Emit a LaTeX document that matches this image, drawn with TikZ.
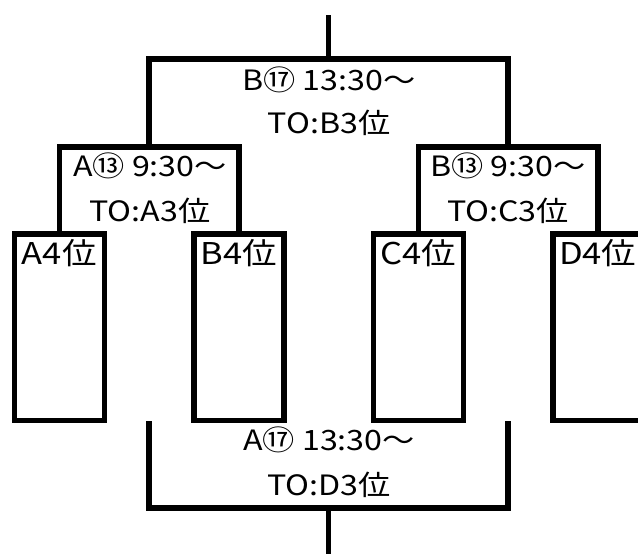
\documentclass[tikz,border=0pt]{standalone}
\usepackage{fontspec}
\newfontfamily\cjk{Noto Sans CJK JP}[FakeStretch=1.15]
\begin{document}
\begin{tikzpicture}[x=1pt,y=-1pt,
  ln/.style={line width=5.5pt, line join=miter},
  seat/.style={draw, line width=5.5pt, minimum width=90pt, minimum height=186.5pt, inner sep=0pt},
  lbl/.style={font=\cjk\fontsize{28}{28}\selectfont, inner sep=0pt, text=black, anchor=base},
  seatlbl/.style={lbl, font=\cjk\fontsize{30}{30}\selectfont}]
\useasboundingbox (0,0) rectangle (638,554);
% boxes
\node[seat] (a4) at (59.25,327.25) {};
\node[seat] (b4) at (238.75,327.25) {};
\node[seat] (c4) at (418.25,327.25) {};
\node[seat] (d4) at (597.75,327.25) {};
\node[seatlbl] (ta4) at (59.25,264) {A4位};
\node[seatlbl] (tb4) at (238.75,264) {B4位};
\node[seatlbl] (tc4) at (418.25,264) {C4位};
\node[seatlbl] (td4) at (597.75,264) {D4位};
% bracket joints
\coordinate (m1) at (149,147);
\coordinate (m2) at (508,147);
\coordinate (tp) at (328.5,59);
\coordinate (tend) at (328.5,15);
\coordinate (bl) at (149,421);
\coordinate (br) at (508,421);
\coordinate (bt) at (328.5,508);
\coordinate (bend) at (328.5,554);
% mid brackets
\draw[ln] (a4.north) |- (m1) -| (b4.north);
\draw[ln] (c4.north) |- (m2) -| (d4.north);
% top bracket
\draw[ln] (m1) |- (tp) -| (m2);
\draw[ln] (tp) -- (tend);
% bottom bracket
\draw[ln] (bl) |- (bt) -| (br);
\draw[ln] (bt) -- (bend);
% labels
\node[lbl] (l1) at (329,90) {B⑰ 13:30〜};
\node[lbl] (l2) at (329,133.5) {TO:B3位};
\node[lbl] (l3) at (150,176) {A⑬ 9:30〜};
\node[lbl] (l4) at (150,221.5) {TO:A3位};
\node[lbl] (l5) at (508,176) {B⑬ 9:30〜};
\node[lbl] (l6) at (508,221.5) {TO:C3位};
\node[lbl] (l7) at (329,450) {A⑰ 13:30〜};
\node[lbl] (l8) at (329,495) {TO:D3位};
\end{tikzpicture}
\end{document}
